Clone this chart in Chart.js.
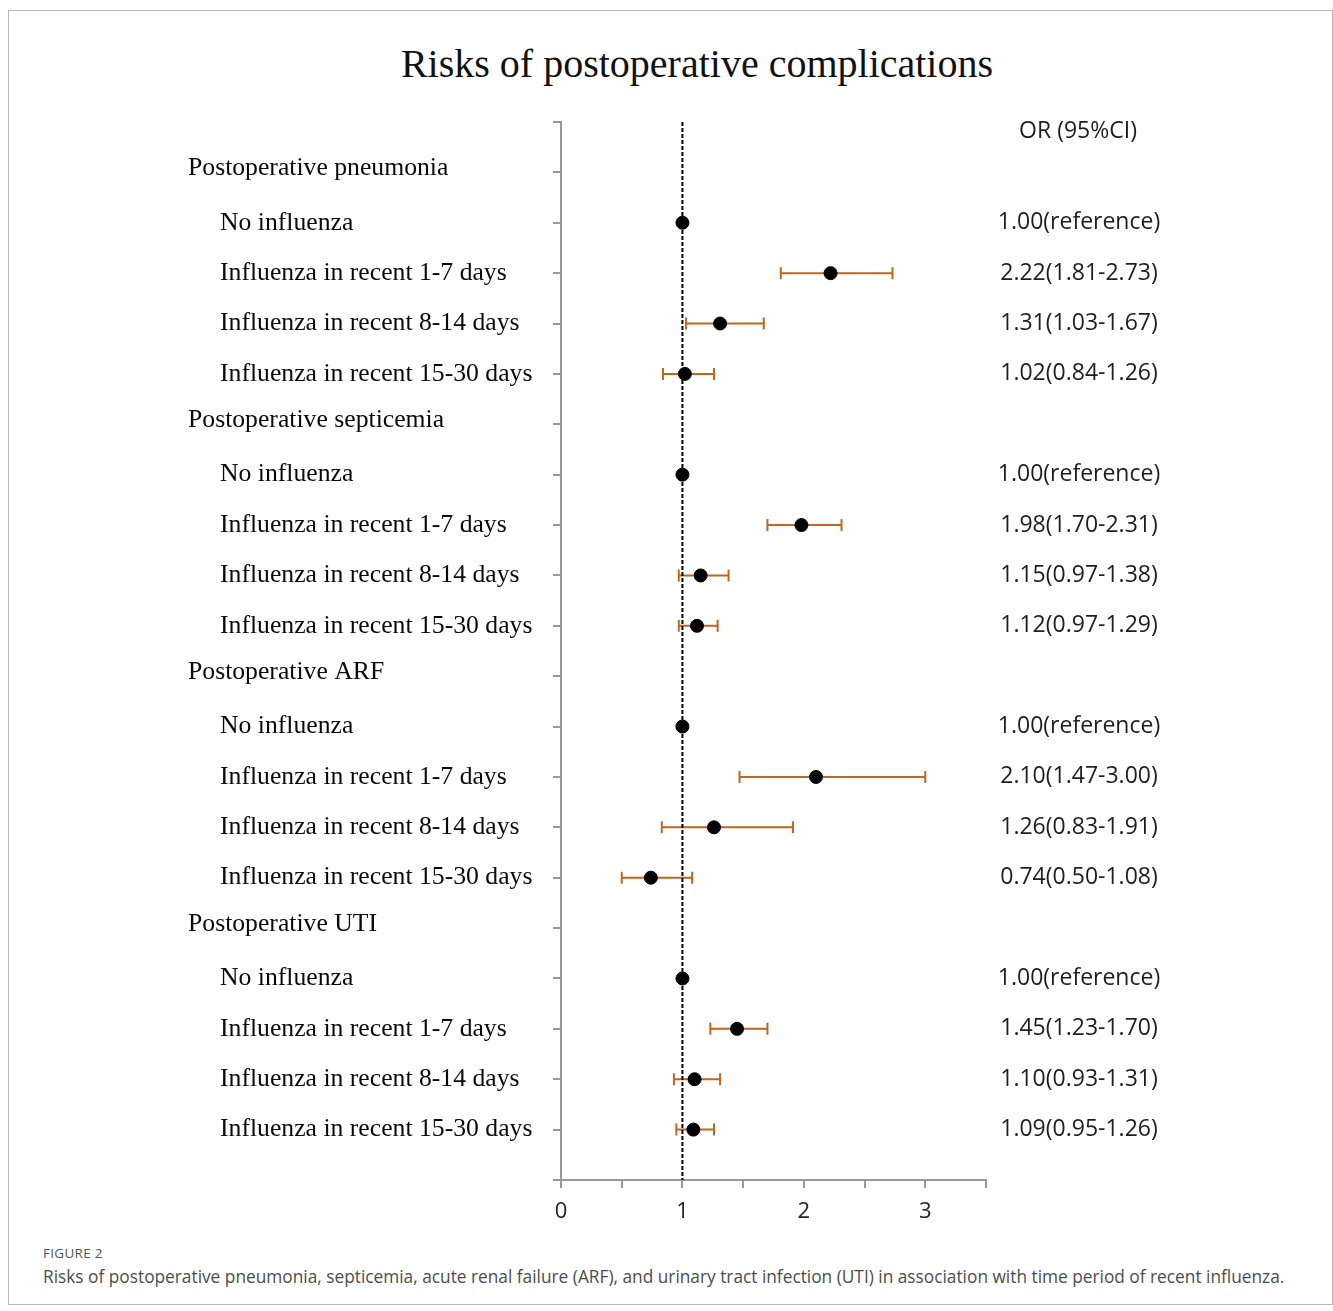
<!DOCTYPE html>
<html>
<head>
<meta charset="utf-8">
<script src="https://cdn.jsdelivr.net/npm/chart.js@4.4.0/dist/chart.umd.min.js"></script>
<style>
  html, body { margin: 0; padding: 0; background: #fff; }
  body { width: 1333px; height: 1311px; position: relative; overflow: hidden; }
  #frame { position: absolute; left: 8px; top: 10px; width: 1325px; height: 1295px; border: 1px solid #b8b8b8; box-sizing: border-box; }
  #title { position: absolute; left: 247px; width: 900px; top: 41px; text-align: center;
           font: 40px "Liberation Serif", serif; color: #111; line-height: 46px; }
  #chart { position: absolute; left: 0; top: 0; }
  #figlabel { position: absolute; left: 43px; top: 1244px; font: 13.5px "Open Sans", sans-serif; color: #555; letter-spacing: 0.3px; }
  #caption { position: absolute; left: 43px; top: 1265px; font: 17.3px "Open Sans", sans-serif; color: #4d4d4d; white-space: nowrap; }
</style>
</head>
<body>
<div id="frame"></div>
<div id="title">Risks of postoperative complications</div>
<canvas id="chart" width="1333" height="1240"></canvas>
<div id="figlabel">FIGURE 2</div>
<div id="caption">Risks of postoperative pneumonia, septicemia, acute renal failure (ARF), and urinary tract infection (UTI) in association with time period of recent influenza.</div>
<script>
// outcome groups and exposure periods (row labels)
const groups = ['Postoperative pneumonia', 'Postoperative septicemia', 'Postoperative ARF', 'Postoperative UTI'];
const periods = ['No influenza', 'Influenza in recent 1-7 days', 'Influenza in recent 8-14 days', 'Influenza in recent 15-30 days'];

// odds ratios and 95% CI, same order: group by group, period by period
const orPoint = [1.00, 2.22, 1.31, 1.02,  1.00, 1.98, 1.15, 1.12,  1.00, 2.10, 1.26, 0.74,  1.00, 1.45, 1.10, 1.09];
const ciLow   = [null, 1.81, 1.03, 0.84,  null, 1.70, 0.97, 0.97,  null, 1.47, 0.83, 0.50,  null, 1.23, 0.93, 0.95];
const ciHigh  = [null, 2.73, 1.67, 1.26,  null, 2.31, 1.38, 1.29,  null, 3.00, 1.91, 1.08,  null, 1.70, 1.31, 1.26];

const xTicks = [0, 1, 2, 3];
const refLine = 1;
const columnHeader = 'OR (95%CI)';

// row index on the y scale: header row, then the 4 periods
function rowOf(i) {
    const g = Math.floor(i / periods.length);
    return 1 + g * (periods.length + 1) + 1 + (i % periods.length);
}
const nRows = groups.length * (periods.length + 1) + 1;

function orText(i) {
    if (ciLow[i] === null) return orPoint[i].toFixed(2) + '(reference)';
    return orPoint[i].toFixed(2) + '(' + ciLow[i].toFixed(2) + '-' + ciHigh[i].toFixed(2) + ')';
}

const forestPlugin = {
    id: 'forest',
    beforeDatasetsDraw(chart) {
        const { ctx, scales: { x, y } } = chart;
        ctx.save();
        ctx.strokeStyle = '#c0661f';
        ctx.lineWidth = 2;
        orPoint.forEach((v, i) => {
            if (ciLow[i] === null) return;
            const py = y.getPixelForValue(rowOf(i));
            const x1 = x.getPixelForValue(ciLow[i]);
            const x2 = x.getPixelForValue(ciHigh[i]);
            ctx.beginPath();
            ctx.moveTo(x1, py); ctx.lineTo(x2, py);
            ctx.moveTo(x1, py - 6); ctx.lineTo(x1, py + 6);
            ctx.moveTo(x2, py - 6); ctx.lineTo(x2, py + 6);
            ctx.stroke();
        });
        ctx.restore();
    },
    afterDraw(chart) {
        const { ctx, scales: { y } } = chart;
        ctx.save();
        ctx.textBaseline = 'middle';
        // left labels
        ctx.fillStyle = '#0a0a0a';
        ctx.font = '25.7px "Liberation Serif", serif';
        ctx.textAlign = 'left';
        groups.forEach((g, gi) => {
            const row = 1 + gi * (periods.length + 1);
            ctx.fillText(g, 188, y.getPixelForValue(row) - 4);
            periods.forEach((p, pi) => {
                ctx.fillText(p, 220, y.getPixelForValue(row + 1 + pi));
            });
        });
        // right column
        ctx.fillStyle = '#1e1e1e';
        ctx.font = '23px "Open Sans", sans-serif';
        ctx.textAlign = 'center';
        ctx.fillText(columnHeader, 1078, y.getPixelForValue(0.18));
        orPoint.forEach((v, i) => {
            ctx.fillText(orText(i), 1079, y.getPixelForValue(rowOf(i)));
        });
        ctx.restore();
    }
};

new Chart(document.getElementById('chart'), {
    type: 'scatter',
    data: {
        datasets: [{
            type: 'scatter',
            data: orPoint.map((v, i) => ({ x: v, y: rowOf(i) })),
            backgroundColor: '#000',
            borderColor: '#000',
            pointRadius: 6.5,
            order: 1
        }, {
            type: 'line',
            data: [{ x: refLine, y: 0 }, { x: refLine, y: nRows }],
            borderColor: '#000',
            borderWidth: 2,
            borderDash: [4, 2],
            pointRadius: 0,
            order: 2
        }]
    },
    options: {
        responsive: false,
        animation: false,
        layout: { padding: { left: 0, right: 347, top: 122, bottom: 10 } },
        plugins: { legend: { display: false }, tooltip: { enabled: false } },
        scales: {
            x: {
                type: 'linear', min: 0, max: 3.5,
                afterFit(scale) { scale.height = 50; },
                border: { color: '#999', width: 2 },
                grid: { drawOnChartArea: false, tickLength: 8, color: '#999', lineWidth: 2 },
                ticks: {
                    stepSize: 0.5, autoSkip: false, maxRotation: 0, padding: 11,
                    color: '#222', font: { family: '"Open Sans", sans-serif', size: 22 },
                    callback: v => xTicks.includes(v) ? String(v) : ''
                }
            },
            y: {
                type: 'linear', min: 0, max: nRows, reverse: true,
                afterFit(scale) { scale.width = 561; },
                border: { color: '#999', width: 2 },
                grid: { drawOnChartArea: false, tickLength: 8, color: '#999', lineWidth: 2 },
                ticks: { stepSize: 1, autoSkip: false, font: { size: 1 }, callback: () => '' }
            }
        }
    },
    plugins: [forestPlugin]
});
</script>
</body>
</html>
